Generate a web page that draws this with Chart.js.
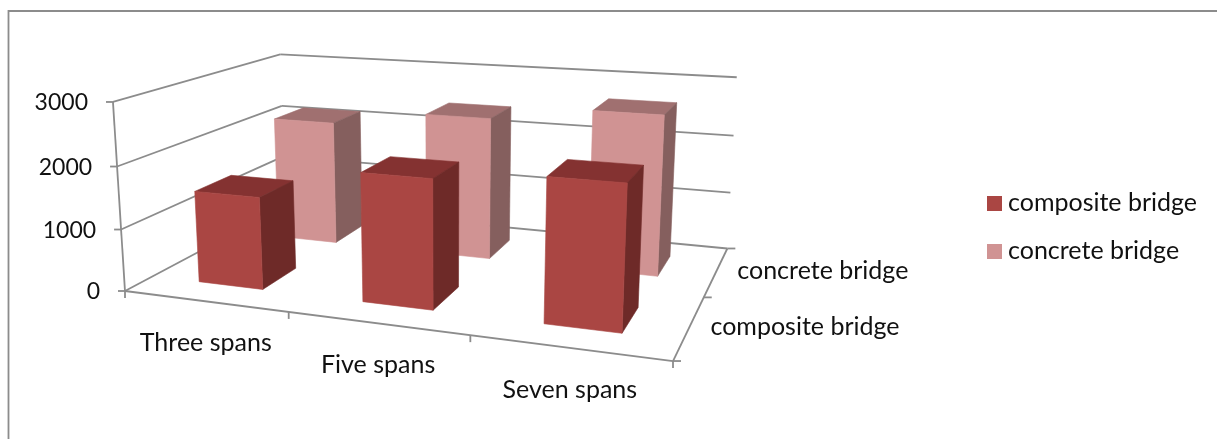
<!DOCTYPE html>
<html>
<head>
<meta charset="utf-8">
<title>Bridge chart</title>
<script src="https://cdn.jsdelivr.net/npm/chart.js@4"></script>
<style>
  body { margin: 0; background: #fff; }
  canvas { display: block; }
</style>
</head>
<body>
<canvas id="chart" width="1217" height="439"></canvas>
<script>
// categories and series
const spans = ["Three spans", "Five spans", "Seven spans"];
const seriesNames = ["composite bridge", "concrete bridge"];
const compositeValues = [1490, 2020, 2190];
const concreteValues = [2150, 2410, 2650];

// colours: front, top, side
const compositeColors = ["#aa4643", "#843231", "#6e2a28"];
const concreteColors = ["#d09393", "#a07070", "#855f5e"];

const lineColor = "#8c8c8c";
const textColor = "#111";
const fontFamily = "Lato, sans-serif";

// bar thickness along the depth axis, share of one depth band
const depthShare = 0.42;

// perspective camera: (u, v, h) in 0..1 to canvas pixels
const cam = {
  x0: 125, xu: 448.4, xv: 233.3, xh: -16.1,
  y0: 291, yu: 16.6, yv: -32, yh: -192.7,
  wu: -0.148, wv: 0.2571, wh: -0.036
};

function project(u, v, h) {
  const w = 1 + cam.wu * u + cam.wv * v + cam.wh * h;
  return {
    x: (cam.x0 + cam.xu * u + cam.xv * v + cam.xh * h) / w,
    y: (cam.y0 + cam.yu * u + cam.yv * v + cam.yh * h) / w
  };
}

function line(ctx, a, b) {
  ctx.beginPath();
  ctx.moveTo(a.x, a.y);
  ctx.lineTo(b.x, b.y);
  ctx.stroke();
}

// the thin stroke closes the seam between neighbouring faces
function face(ctx, points, color) {
  ctx.fillStyle = color;
  ctx.strokeStyle = color;
  ctx.lineWidth = 0.6;
  ctx.beginPath();
  points.forEach((p, i) => i ? ctx.lineTo(p.x, p.y) : ctx.moveTo(p.x, p.y));
  ctx.closePath();
  ctx.fill();
  ctx.stroke();
}

function text(ctx, str, x, y, align) {
  ctx.textAlign = align;
  ctx.fillText(str, x, y);
}

// outer frame, walls, floor and axis labels
const wallsPlugin = {
  id: "walls",
  beforeDatasetsDraw(chart) {
    const ctx = chart.ctx;
    const { x, y, depth } = chart.scales;
    const area = chart.chartArea;

    ctx.save();
    ctx.strokeStyle = lineColor;
    ctx.lineWidth = 1.8;

    // frame, open at right and bottom
    ctx.beginPath();
    ctx.moveTo(8.5, chart.height);
    ctx.lineTo(8.5, 11);
    ctx.lineTo(chart.width, 11);
    ctx.stroke();

    ctx.fillStyle = textColor;
    ctx.textBaseline = "middle";

    // gridlines and value labels, digits a little smaller than the words
    ctx.font = "23px " + fontFamily;
    y.ticks.forEach((tick) => {
      const h = (area.bottom - y.getPixelForValue(tick.value)) / area.height;
      const front = project(0, 0, h);
      const back = project(0, 1, h);
      line(ctx, front, back);
      line(ctx, back, project(1, 1, h));
      line(ctx, front, { x: front.x - 7, y: front.y });
      text(ctx, tick.label, front.x - 25, front.y + 1, "right");
    });

    // vertical edge and the floor outline
    line(ctx, project(0, 0, 0), project(0, 0, 1));
    line(ctx, project(0, 0, 0), project(1, 0, 0));
    line(ctx, project(1, 0, 0), project(1, 1, 0));

    // category ticks along the front edge
    for (let i = 0; i <= spans.length; i++) {
      const p = project(i / spans.length, 0, 0);
      line(ctx, p, { x: p.x, y: p.y + 7 });
    }

    // depth ticks along the right edge
    for (let i = 0; i <= seriesNames.length; i++) {
      const p = project(1, i / seriesNames.length, 0);
      line(ctx, p, { x: p.x + 8, y: p.y });
    }

    ctx.font = "25px " + fontFamily;

    // category labels
    spans.forEach((name, i) => {
      const u = (x.getPixelForValue(i) - area.left) / area.width;
      const p = project(u, 0, 0);
      text(ctx, name, p.x + 1, p.y + 42, "center");
    });

    // depth labels
    seriesNames.forEach((name, i) => {
      const v = (depth.getPixelForValue(i) - area.left) / area.width;
      const p = project(1, v, 0);
      text(ctx, name, p.x + 21, p.y, "left");
    });

    // legend
    chart.data.datasets.forEach((ds, i) => {
      const top = 196 + i * 48;
      ctx.fillStyle = ds.backgroundColor;
      ctx.fillRect(987, top, 15, 15);
      ctx.fillStyle = textColor;
      text(ctx, ds.label, 1008, top + 7, "left");
    });

    ctx.restore();
  },

  // bars are drawn as boxes from the positions the bar controller worked out
  beforeDatasetDraw(chart, args) {
    const ctx = chart.ctx;
    const { depth } = chart.scales;
    const area = chart.chartArea;
    const ds = chart.data.datasets[args.index];
    const colors = ds.faceColors;

    const vc = (depth.getPixelForValue(args.index) - area.left) / area.width;
    const dv = depthShare / seriesNames.length / 2;
    const v0 = vc - dv;
    const v1 = vc + dv;

    args.meta.data.forEach((bar) => {
      const u0 = (bar.x - bar.width / 2 - area.left) / area.width;
      const u1 = (bar.x + bar.width / 2 - area.left) / area.width;
      const h = (area.bottom - bar.y) / area.height;

      face(ctx, [project(u0, v0, h), project(u1, v0, h), project(u1, v1, h), project(u0, v1, h)], colors[1]);
      face(ctx, [project(u1, v0, 0), project(u1, v1, 0), project(u1, v1, h), project(u1, v0, h)], colors[2]);
      face(ctx, [project(u0, v0, 0), project(u1, v0, 0), project(u1, v0, h), project(u0, v0, h)], colors[0]);
    });
    return false;
  }
};

new Chart(document.getElementById("chart"), {
  type: "bar",
  data: {
    labels: spans,
    datasets: [
      {
        label: seriesNames[0],
        data: compositeValues,
        backgroundColor: compositeColors[0],
        faceColors: compositeColors
      },
      {
        label: seriesNames[1],
        data: concreteValues,
        backgroundColor: concreteColors[0],
        faceColors: concreteColors
      }
    ]
  },
  options: {
    responsive: false,
    animation: false,
    datasets: {
      bar: { grouped: false, categoryPercentage: 1, barPercentage: 0.4 }
    },
    plugins: {
      legend: { display: false },
      tooltip: { enabled: false }
    },
    scales: {
      x: { display: false },
      y: {
        display: false,
        min: 0,
        max: 3000,
        ticks: { stepSize: 1000, callback: (value) => String(value) }
      },
      depth: { type: "category", axis: "x", labels: seriesNames, offset: true, display: false }
    }
  },
  plugins: [wallsPlugin]
});
</script>
</body>
</html>
